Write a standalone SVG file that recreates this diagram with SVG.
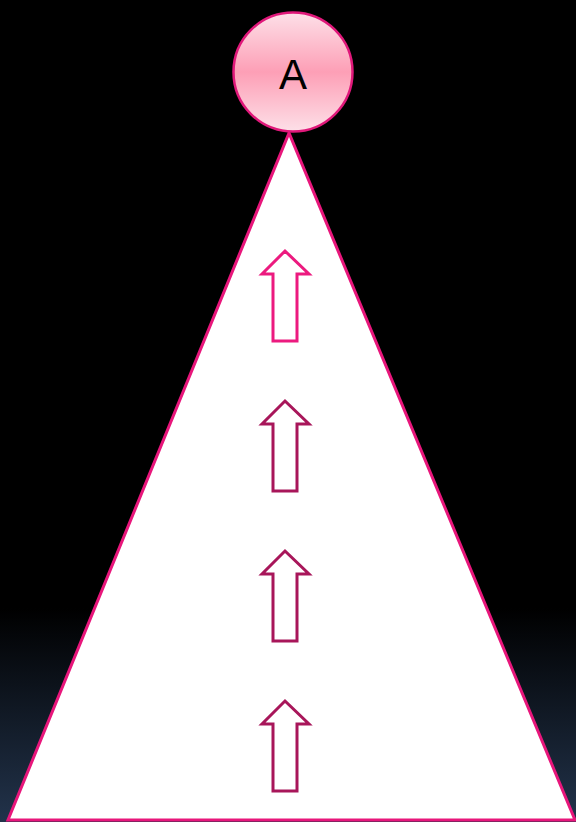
<svg xmlns="http://www.w3.org/2000/svg" width="576" height="822" viewBox="0 0 576 822">
<defs>
<linearGradient id="bg" x1="0" y1="0" x2="0" y2="1">
<stop offset="0" stop-color="#000"/>
<stop offset="0.74" stop-color="#000"/>
<stop offset="1" stop-color="#22334b"/>
</linearGradient>
<linearGradient id="ball" x1="0" y1="0" x2="0" y2="1">
<stop offset="0" stop-color="#fde0e8"/>
<stop offset="0.5" stop-color="#fd9fb6"/>
<stop offset="1" stop-color="#fde0e8"/>
</linearGradient>
<style>
.arr{fill:#fff;stroke-width:3;stroke-linejoin:miter}
</style>
</defs>
<rect width="576" height="822" fill="url(#bg)"/>
<g id="triangle">
<polygon points="289,133 8,820 575,820" fill="#fff" stroke="#e8167b" stroke-width="3"/>
</g>
<g id="connectors">
<path class="arr" stroke="#ec1a7f" d="M285,251 L309,274 L297,274 L297,341 L273,341 L273,274 L262,274 Z"/>
<path class="arr" stroke="#a8165a" d="M285,401 L309,424 L297,424 L297,491 L273,491 L273,424 L262,424 Z"/>
<path class="arr" stroke="#a8165a" d="M285,551 L309,574 L297,574 L297,641 L273,641 L273,574 L262,574 Z"/>
<path class="arr" stroke="#a8165a" d="M285,701 L309,724 L297,724 L297,791 L273,791 L273,724 L262,724 Z"/>
</g>
<g id="nodeA">
<circle cx="293" cy="72" r="59.5" fill="url(#ball)" stroke="#e0187a" stroke-width="2.5"/>
<text x="293" y="89" text-anchor="middle" font-family="Liberation Sans, Arial, sans-serif" font-size="42" fill="#000">A</text>
</g>
</svg>
